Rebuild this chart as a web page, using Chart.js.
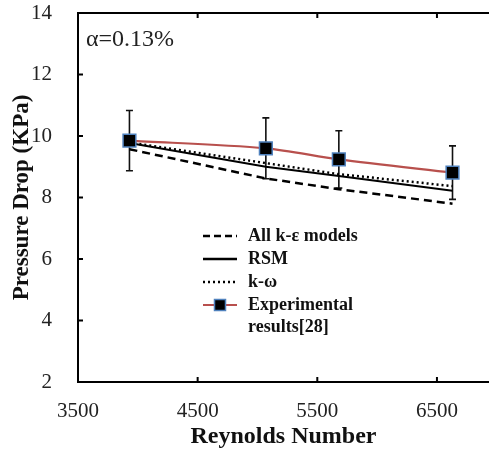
<!DOCTYPE html>
<html>
<head>
<meta charset="utf-8">
<script src="https://cdn.jsdelivr.net/npm/chart.js@4.4.0/dist/chart.umd.min.js"></script>
<style>
  html, body { margin: 0; padding: 0; background: #fff; }
  #wrap { width: 489px; height: 452px; }
</style>
</head>
<body>
<div id="wrap"><canvas id="chart" width="489" height="452"></canvas></div>
<script>
// pressure drop vs Reynolds number, alpha = 0.13%
var reynolds = [3930, 5070, 5680, 6630];
var kEpsilon = [9.57, 8.62, 8.27, 7.80];
var rsm = [9.77, 9.00, 8.70, 8.22];
var kOmega = [9.79, 9.12, 8.76, 8.37];
var experimental = [9.85, 9.60, 9.24, 8.81];
var expError = [0.98, 0.99, 0.93, 0.87];

var xTicks = [3500, 4500, 5500, 6500];
var yTicks = [2, 4, 6, 8, 10, 12, 14];
var legendLabels = ['All k-ε models', 'RSM', 'k-ω', ['Experimental', 'results[28]']];

var serif = "'Liberation Serif', 'Times New Roman', serif";
var expRed = '#b8504d';
var markerBlue = '#4f81bd';

function toPoints(ys) {
  return reynolds.map(function (x, i) { return { x: x, y: ys[i] }; });
}

// error bars under the experimental markers
var errorBars = {
  id: 'errorBars',
  beforeDatasetsDraw: function (chart) {
    var ctx = chart.ctx;
    var xs = chart.scales.x, ys = chart.scales.y;
    ctx.save();
    ctx.strokeStyle = '#111';
    ctx.lineWidth = 1.6;
    for (var i = 0; i < reynolds.length; i++) {
      var px = xs.getPixelForValue(reynolds[i]);
      var top = ys.getPixelForValue(experimental[i] + expError[i]);
      var bot = ys.getPixelForValue(experimental[i] - expError[i]);
      ctx.beginPath();
      ctx.moveTo(px, top); ctx.lineTo(px, bot);
      ctx.moveTo(px - 3.5, top); ctx.lineTo(px + 3.5, top);
      ctx.moveTo(px - 3.5, bot); ctx.lineTo(px + 3.5, bot);
      ctx.stroke();
    }
    ctx.restore();
  }
};

// frame top line, inward ticks, annotation and legend
var frame = {
  id: 'frame',
  afterDraw: function (chart) {
    var ctx = chart.ctx;
    var a = chart.chartArea;
    var xs = chart.scales.x, ys = chart.scales.y;
    ctx.save();
    ctx.strokeStyle = '#000';
    ctx.lineWidth = 2;
    ctx.beginPath();
    ctx.moveTo(a.left - 1, a.top);
    ctx.lineTo(a.right, a.top);
    ctx.stroke();

    ctx.beginPath();
    xTicks.forEach(function (v) {
      if (v === xs.min) return;
      var px = xs.getPixelForValue(v);
      ctx.moveTo(px, a.top); ctx.lineTo(px, a.top + 5);
      ctx.moveTo(px, a.bottom); ctx.lineTo(px, a.bottom - 5);
    });
    yTicks.forEach(function (v) {
      if (v === ys.min || v === ys.max) return;
      var py = ys.getPixelForValue(v);
      ctx.moveTo(a.left, py); ctx.lineTo(a.left + 5, py);
    });
    ctx.stroke();

    ctx.fillStyle = '#222';
    ctx.font = '24px ' + serif;
    ctx.textBaseline = 'middle';
    ctx.textAlign = 'left';
    ctx.fillText('α=0.13%', 86, 40);

    // legend
    var lx0 = 203, lx1 = 237, tx = 248;
    var rows = [236, 259, 282, 305];
    var dashes = [[7, 4], [], [2, 3]];
    ctx.font = 'bold 18px ' + serif;
    ctx.fillStyle = '#111';
    for (var i = 0; i < 3; i++) {
      ctx.strokeStyle = '#000';
      ctx.lineWidth = 2.5;
      ctx.setLineDash(dashes[i]);
      ctx.beginPath();
      ctx.moveTo(lx0, rows[i]); ctx.lineTo(lx1, rows[i]);
      ctx.stroke();
      ctx.fillText(legendLabels[i], tx, rows[i]);
    }
    ctx.setLineDash([]);
    ctx.strokeStyle = expRed;
    ctx.lineWidth = 2;
    ctx.beginPath();
    ctx.moveTo(lx0, rows[3]); ctx.lineTo(lx1, rows[3]);
    ctx.stroke();
    var mx = (lx0 + lx1) / 2;
    ctx.fillStyle = '#000';
    ctx.fillRect(mx - 5.5, rows[3] - 5.5, 11, 11);
    ctx.strokeStyle = markerBlue;
    ctx.lineWidth = 1.5;
    ctx.strokeRect(mx - 5.5, rows[3] - 5.5, 11, 11);
    ctx.fillStyle = '#111';
    ctx.fillText(legendLabels[3][0], tx, rows[3]);
    ctx.fillText(legendLabels[3][1], tx, rows[3] + 22);
    ctx.restore();
  }
};

var ctx = document.getElementById('chart');
var myChart = new Chart(ctx, {
  type: 'line',
  data: {
    datasets: [
      {
        label: legendLabels[3].join(' '),
        data: toPoints(experimental),
        borderColor: expRed,
        borderWidth: 2.2,
        tension: 0.3,
        pointStyle: 'rect',
        pointRadius: 9,
        pointBackgroundColor: '#000',
        pointBorderColor: markerBlue,
        pointBorderWidth: 1.5,
        order: 0
      },
      {
        label: legendLabels[2],
        data: toPoints(kOmega),
        borderColor: '#000',
        borderWidth: 2.5,
        borderDash: [2, 3],
        pointRadius: 0,
        order: 1
      },
      {
        label: legendLabels[1],
        data: toPoints(rsm),
        borderColor: '#000',
        borderWidth: 2,
        pointRadius: 0,
        order: 2
      },
      {
        label: legendLabels[0],
        data: toPoints(kEpsilon),
        borderColor: '#000',
        borderWidth: 2.5,
        borderDash: [8, 5],
        pointRadius: 0,
        order: 3
      }
    ]
  },
  options: {
    responsive: false,
    animation: false,
    layout: { autoPadding: false, padding: { top: 13, right: 0, left: 0, bottom: 0 } },
    plugins: {
      legend: { display: false },
      tooltip: { enabled: false }
    },
    scales: {
      x: {
        type: 'linear',
        min: 3500,
        max: 6935,
        afterBuildTicks: function (s) { s.ticks = xTicks.map(function (v) { return { value: v }; }); },
        afterFit: function (s) {
          s.height = 70;
          s.paddingLeft = 0; s.paddingRight = 0;
        },
        grid: { display: false },
        border: { display: true, color: '#000', width: 2 },
        ticks: {
          font: { family: serif, size: 21 },
          color: '#222',
          padding: 9,
          maxRotation: 0,
          autoSkip: false,
          callback: function (v) { return String(v); }
        },
        title: {
          display: true,
          text: 'Reynolds Number',
          font: { family: serif, size: 24, weight: 'bold' },
          color: '#111',
          padding: { top: 0, bottom: 1 }
        }
      },
      y: {
        min: 2,
        max: 14,
        afterBuildTicks: function (s) { s.ticks = yTicks.map(function (v) { return { value: v }; }); },
        afterFit: function (s) {
          s.width = 78;
          s.paddingTop = 0; s.paddingBottom = 0;
        },
        grid: { display: false },
        border: { display: true, color: '#000', width: 2 },
        ticks: {
          font: { family: serif, size: 21 },
          color: '#222',
          padding: 18,
          callback: function (v) { return String(v); }
        },
        title: {
          display: true,
          text: 'Pressure Drop (KPa)',
          font: { family: serif, size: 23, weight: 'bold' },
          color: '#111',
          padding: { top: 8, bottom: 0 }
        }
      }
    }
  },
  plugins: [errorBars, frame]
});
</script>
</body>
</html>
